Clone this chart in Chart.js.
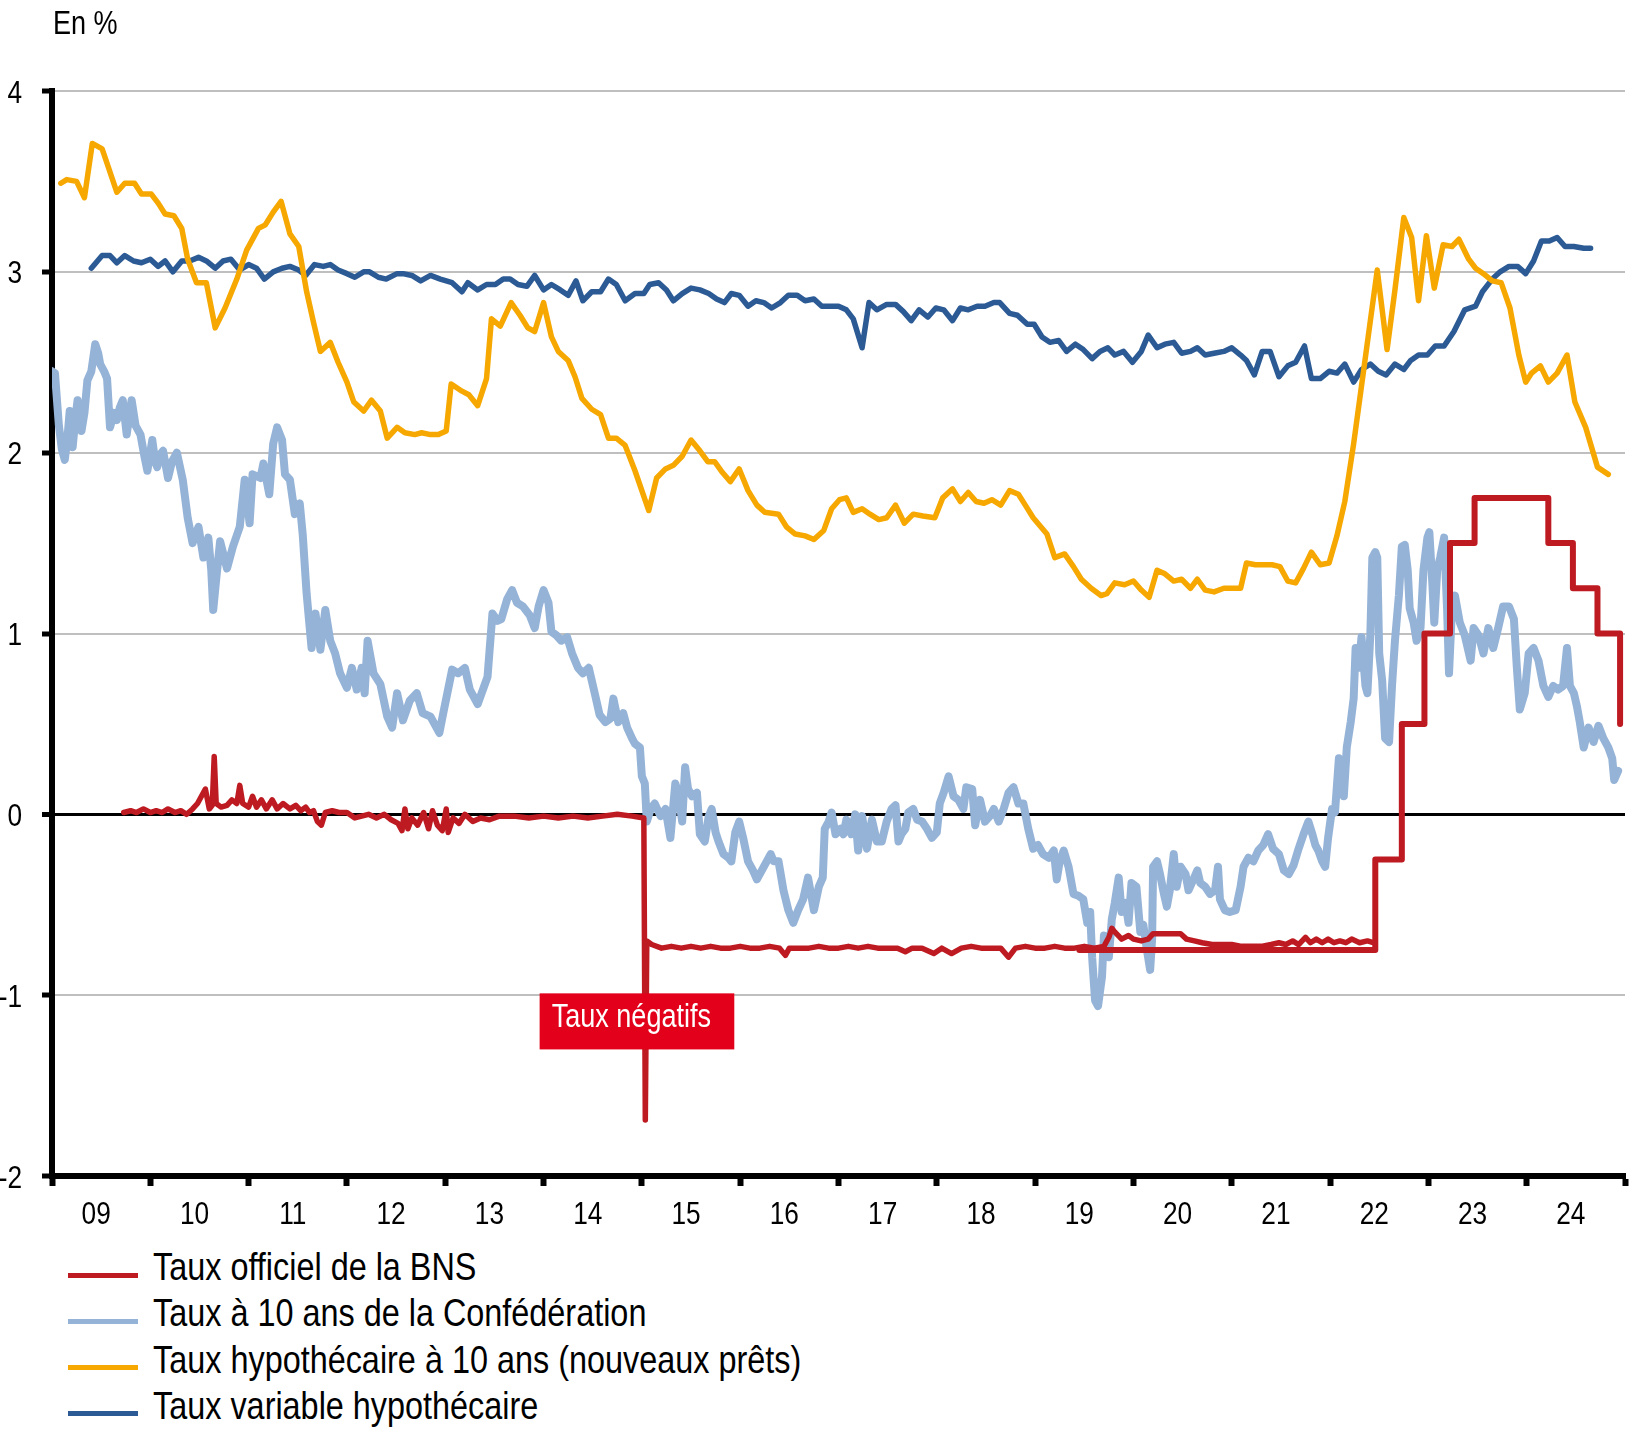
<!DOCTYPE html>
<html lang="fr">
<head>
<meta charset="utf-8">
<title>Taux d'intérêt en Suisse</title>
<script src="https://cdn.jsdelivr.net/npm/chart.js@4.4.1/dist/chart.umd.min.js"></script>
<style>
  html, body { margin: 0; padding: 0; background: #fff; }
  #wrap { position: relative; width: 1651px; height: 1438px; overflow: hidden;
          font-family: "Liberation Sans", Arial, sans-serif; color: #000; }
  #chart { position: absolute; left: 0; top: 0; }
  /* Arial Narrow look: Liberation Sans squeezed horizontally */
  .narrow { transform: scaleX(0.82); transform-origin: 0 0; white-space: nowrap; }
  #unit { position: absolute; left: 53px; top: 6px; font-size: 33px; line-height: 33px; }
  .lg-line { position: absolute; left: 68px; width: 70px; height: 5px; }
  .lg-text { position: absolute; left: 153px; font-size: 39.5px; line-height: 39px; }
</style>
</head>
<body>
<div id="wrap">
  <canvas id="chart" width="1651" height="1240"></canvas>
  <div id="unit" class="narrow">En %</div>
  <div id="legend"></div>
</div>
<script>
const FONT = '"Liberation Sans", Arial, sans-serif';
const SQUEEZE = 0.82;

const seriesNames = [
    "Taux officiel de la BNS",
    "Taux à 10 ans de la Confédération",
    "Taux hypothécaire à 10 ans (nouveaux prêts)",
    "Taux variable hypothécaire"
];
const yearLabels = ["09","10","11","12","13","14","15","16","17","18","19","20","21","22","23","24"];

// BNS / SARON (daily, thinned)
const bnsYears = [2009.73,2009.80,2009.86,2009.93,2010.00,2010.06,2010.12,2010.18,2010.25,2010.31,2010.37,2010.43,2010.48,2010.52,2010.56,2010.60,2010.63,2010.65,2010.67,2010.72,2010.78,2010.83,2010.88,2010.91,2010.94,2011.00,2011.04,2011.08,2011.13,2011.18,2011.24,2011.29,2011.35,2011.42,2011.48,2011.53,2011.58,2011.62,2011.66,2011.70,2011.74,2011.78,2011.85,2011.92,2012.00,2012.08,2012.15,2012.22,2012.30,2012.38,2012.45,2012.52,2012.56,2012.59,2012.62,2012.66,2012.72,2012.78,2012.83,2012.87,2012.92,2012.97,2013.01,2013.03,2013.08,2013.14,2013.20,2013.28,2013.36,2013.45,2013.55,2013.70,2013.85,2014.00,2014.15,2014.30,2014.45,2014.60,2014.75,2014.90,2015.02,2015.035,2015.05,2015.10,2015.20,2015.30,2015.40,2015.50,2015.60,2015.70,2015.80,2015.90,2016.00,2016.10,2016.20,2016.30,2016.40,2016.46,2016.50,2016.60,2016.70,2016.80,2016.90,2017.00,2017.10,2017.20,2017.30,2017.40,2017.50,2017.60,2017.68,2017.75,2017.85,2017.97,2018.05,2018.15,2018.25,2018.35,2018.45,2018.55,2018.65,2018.73,2018.80,2018.90,2019.00,2019.10,2019.20,2019.30,2019.40,2019.50,2019.60,2019.70,2019.75,2019.78,2019.81,2019.88,2019.95,2020.00,2020.08,2020.15,2020.20,2020.30,2020.40,2020.48,2020.54,2020.62,2020.70,2020.80,2020.90,2021.00,2021.10,2021.20,2021.30,2021.40,2021.48,2021.55,2021.62,2021.68,2021.75,2021.80,2021.86,2021.92,2021.98,2022.04,2022.10,2022.16,2022.22,2022.30,2022.38,2022.44];
const bnsRates = [0.01,0.02,0.01,0.03,0.01,0.02,0.01,0.03,0.01,0.02,0.00,0.03,0.06,0.10,0.14,0.03,0.05,0.32,0.06,0.04,0.05,0.08,0.06,0.16,0.06,0.04,0.10,0.04,0.08,0.03,0.08,0.03,0.06,0.03,0.05,0.02,0.04,0.01,0.02,-0.04,-0.06,0.01,0.02,0.01,0.01,-0.02,-0.01,0.00,-0.02,0.00,-0.03,-0.05,-0.09,0.03,-0.08,-0.02,-0.06,0.01,-0.08,0.02,-0.06,-0.09,0.03,-0.10,-0.02,-0.05,0.00,-0.04,-0.02,-0.03,-0.01,-0.01,-0.02,-0.01,-0.02,-0.01,-0.02,-0.01,0.00,-0.01,-0.02,-1.69,-0.70,-0.72,-0.74,-0.73,-0.74,-0.73,-0.74,-0.73,-0.74,-0.74,-0.73,-0.74,-0.74,-0.73,-0.74,-0.78,-0.74,-0.74,-0.74,-0.73,-0.74,-0.74,-0.73,-0.74,-0.73,-0.74,-0.74,-0.74,-0.76,-0.74,-0.74,-0.77,-0.74,-0.77,-0.74,-0.73,-0.74,-0.74,-0.74,-0.79,-0.74,-0.73,-0.74,-0.74,-0.73,-0.74,-0.74,-0.73,-0.74,-0.73,-0.68,-0.63,-0.65,-0.69,-0.67,-0.69,-0.70,-0.69,-0.66,-0.66,-0.66,-0.66,-0.69,-0.70,-0.71,-0.72,-0.72,-0.72,-0.73,-0.73,-0.73,-0.72,-0.71,-0.72,-0.70,-0.72,-0.68,-0.71,-0.69,-0.71,-0.69,-0.71,-0.70,-0.71,-0.69,-0.71,-0.70,-0.71];

// BNS policy rate (steps, value valid from the date)
const policyYears = [2019.45,2022.46,2022.73,2022.96,2023.22,2023.47,2024.22,2024.47,2024.72,2024.95];
const policyRates = [-0.75,-0.25,0.50,1.00,1.50,1.75,1.50,1.25,1.00,0.50];

// 10-year Confederation bond yield
const confYears = [2009.00,2009.03,2009.07,2009.10,2009.13,2009.16,2009.18,2009.21,2009.24,2009.26,2009.30,2009.33,2009.36,2009.40,2009.44,2009.47,2009.49,2009.53,2009.56,2009.59,2009.63,2009.66,2009.69,2009.72,2009.76,2009.79,2009.81,2009.85,2009.90,2009.94,2009.97,2010.02,2010.05,2010.07,2010.10,2010.13,2010.18,2010.22,2010.27,2010.33,2010.38,2010.43,2010.49,2010.54,2010.59,2010.62,2010.64,2010.67,2010.71,2010.78,2010.84,2010.91,2010.96,2011.01,2011.04,2011.12,2011.15,2011.21,2011.25,2011.29,2011.34,2011.37,2011.42,2011.47,2011.52,2011.55,2011.59,2011.64,2011.68,2011.73,2011.78,2011.83,2011.88,2011.93,2012.00,2012.05,2012.10,2012.15,2012.18,2012.21,2012.27,2012.34,2012.41,2012.46,2012.51,2012.57,2012.64,2012.71,2012.77,2012.85,2012.94,2012.98,2013.07,2013.13,2013.20,2013.25,2013.33,2013.43,2013.48,2013.53,2013.57,2013.63,2013.68,2013.73,2013.79,2013.86,2013.91,2013.95,2014.00,2014.05,2014.08,2014.13,2014.18,2014.24,2014.29,2014.35,2014.40,2014.46,2014.52,2014.57,2014.63,2014.68,2014.71,2014.76,2014.81,2014.85,2014.90,2014.93,2014.98,2015.00,2015.03,2015.05,2015.09,2015.13,2015.19,2015.24,2015.29,2015.31,2015.34,2015.37,2015.41,2015.44,2015.47,2015.51,2015.56,2015.59,2015.64,2015.68,2015.71,2015.75,2015.78,2015.83,2015.88,2015.91,2015.95,2015.99,2016.03,2016.08,2016.13,2016.17,2016.22,2016.27,2016.31,2016.34,2016.39,2016.44,2016.49,2016.54,2016.59,2016.64,2016.69,2016.75,2016.80,2016.84,2016.86,2016.90,2016.93,2016.97,2017.02,2017.05,2017.08,2017.13,2017.17,2017.20,2017.24,2017.29,2017.34,2017.39,2017.44,2017.49,2017.54,2017.58,2017.61,2017.64,2017.68,2017.71,2017.76,2017.80,2017.85,2017.90,2017.95,2018.00,2018.03,2018.07,2018.12,2018.17,2018.22,2018.27,2018.30,2018.36,2018.39,2018.44,2018.49,2018.54,2018.58,2018.63,2018.68,2018.73,2018.78,2018.83,2018.88,2018.93,2018.98,2019.03,2019.08,2019.14,2019.19,2019.22,2019.25,2019.29,2019.34,2019.39,2019.44,2019.49,2019.53,2019.56,2019.58,2019.61,2019.64,2019.68,2019.70,2019.73,2019.75,2019.78,2019.81,2019.85,2019.88,2019.92,2019.95,2019.98,2020.03,2020.07,2020.10,2020.14,2020.17,2020.19,2020.20,2020.24,2020.27,2020.31,2020.34,2020.37,2020.41,2020.44,2020.48,2020.53,2020.56,2020.61,2020.65,2020.68,2020.73,2020.78,2020.83,2020.86,2020.88,2020.93,2020.98,2021.04,2021.09,2021.12,2021.17,2021.22,2021.27,2021.32,2021.37,2021.42,2021.48,2021.53,2021.58,2021.63,2021.68,2021.73,2021.78,2021.82,2021.85,2021.88,2021.92,2021.95,2021.98,2022.02,2022.05,2022.09,2022.11,2022.14,2022.17,2022.21,2022.24,2022.26,2022.29,2022.32,2022.36,2022.38,2022.41,2022.43,2022.46,2022.48,2022.50,2022.53,2022.56,2022.60,2022.63,2022.66,2022.70,2022.73,2022.76,2022.79,2022.81,2022.85,2022.88,2022.92,2022.95,2022.99,2023.01,2023.04,2023.06,2023.09,2023.12,2023.16,2023.19,2023.21,2023.24,2023.27,2023.32,2023.37,2023.43,2023.46,2023.51,2023.56,2023.61,2023.66,2023.71,2023.76,2023.82,2023.87,2023.90,2023.93,2023.98,2024.02,2024.07,2024.12,2024.17,2024.22,2024.27,2024.32,2024.37,2024.41,2024.44,2024.48,2024.51,2024.54,2024.58,2024.63,2024.68,2024.73,2024.78,2024.83,2024.87,2024.89,2024.93];
const confRates = [2.45,2.44,2.15,2.02,1.96,2.10,2.23,2.03,2.20,2.29,2.12,2.22,2.40,2.45,2.60,2.55,2.49,2.45,2.41,2.14,2.22,2.18,2.25,2.29,2.10,2.22,2.29,2.15,2.10,1.98,1.90,2.07,1.95,1.92,1.99,2.01,1.86,1.95,2.00,1.85,1.64,1.50,1.59,1.42,1.53,1.35,1.13,1.30,1.51,1.36,1.48,1.59,1.85,1.61,1.88,1.86,1.94,1.77,2.05,2.14,2.07,1.88,1.85,1.66,1.72,1.55,1.22,0.92,1.11,0.91,1.13,0.96,0.89,0.78,0.70,0.81,0.69,0.81,0.67,0.96,0.78,0.72,0.54,0.48,0.67,0.52,0.63,0.67,0.56,0.54,0.45,0.56,0.80,0.78,0.81,0.69,0.61,0.76,1.11,1.07,1.08,1.19,1.24,1.17,1.15,1.10,1.03,1.15,1.24,1.17,1.01,0.99,0.96,0.98,0.89,0.81,0.78,0.81,0.67,0.55,0.51,0.53,0.64,0.51,0.56,0.48,0.42,0.39,0.37,0.21,0.17,-0.04,0.03,0.06,-0.01,0.03,-0.13,-0.01,0.17,0.12,-0.04,0.26,0.14,0.10,0.12,-0.11,-0.15,-0.01,0.03,-0.10,-0.15,-0.22,-0.24,-0.26,-0.10,-0.04,-0.13,-0.26,-0.31,-0.36,-0.31,-0.26,-0.22,-0.26,-0.26,-0.42,-0.53,-0.60,-0.53,-0.47,-0.35,-0.53,-0.40,-0.35,-0.08,-0.04,0.01,-0.11,-0.08,-0.11,-0.03,-0.11,0.00,-0.20,-0.01,-0.19,-0.03,-0.15,-0.15,-0.04,0.03,0.05,-0.15,-0.11,-0.08,0.01,0.03,-0.03,-0.04,-0.08,-0.13,-0.10,0.06,0.12,0.21,0.10,0.08,0.03,0.15,0.14,-0.06,0.08,-0.04,-0.01,0.03,-0.04,0.03,0.12,0.15,0.06,0.06,-0.08,-0.19,-0.17,-0.22,-0.24,-0.20,-0.36,-0.26,-0.20,-0.29,-0.44,-0.45,-0.47,-0.60,-0.54,-0.79,-1.03,-1.06,-0.90,-0.67,-0.72,-0.79,-0.58,-0.49,-0.35,-0.54,-0.49,-0.60,-0.38,-0.40,-0.65,-0.61,-0.76,-0.86,-0.69,-0.29,-0.26,-0.33,-0.44,-0.51,-0.42,-0.22,-0.40,-0.29,-0.33,-0.42,-0.36,-0.31,-0.38,-0.40,-0.44,-0.42,-0.29,-0.47,-0.53,-0.54,-0.53,-0.40,-0.29,-0.24,-0.26,-0.20,-0.17,-0.11,-0.19,-0.22,-0.31,-0.33,-0.28,-0.19,-0.11,-0.04,-0.11,-0.17,-0.20,-0.26,-0.29,-0.13,0.03,0.01,0.31,0.24,0.10,0.37,0.51,0.64,0.92,0.81,0.98,0.71,0.67,1.00,1.42,1.45,1.42,0.89,0.74,0.42,0.40,0.71,0.96,1.21,1.48,1.49,1.35,1.14,1.06,0.96,1.03,1.35,1.53,1.56,1.28,1.06,1.35,1.42,1.53,1.14,0.78,1.14,1.21,1.06,0.99,0.85,1.03,0.99,0.89,1.03,0.92,1.03,1.15,1.15,1.08,0.81,0.58,0.67,0.89,0.92,0.85,0.71,0.65,0.71,0.69,0.71,0.92,0.71,0.67,0.60,0.51,0.37,0.48,0.40,0.49,0.42,0.37,0.31,0.19,0.24];

// 10-year fixed mortgage rate (new loans)
const mortYears = [2009.09,2009.15,2009.25,2009.33,2009.41,2009.51,2009.66,2009.74,2009.84,2009.91,2010.01,2010.08,2010.15,2010.24,2010.32,2010.38,2010.47,2010.57,2010.66,2010.76,2010.88,2010.98,2011.10,2011.17,2011.25,2011.33,2011.42,2011.51,2011.59,2011.66,2011.73,2011.83,2011.91,2012.00,2012.07,2012.17,2012.25,2012.34,2012.41,2012.51,2012.59,2012.69,2012.76,2012.85,2012.93,2013.01,2013.06,2013.17,2013.24,2013.33,2013.42,2013.47,2013.56,2013.67,2013.76,2013.84,2013.91,2014.00,2014.08,2014.15,2014.25,2014.32,2014.39,2014.49,2014.58,2014.66,2014.74,2014.83,2014.93,2015.07,2015.15,2015.24,2015.32,2015.41,2015.50,2015.59,2015.67,2015.74,2015.82,2015.90,2015.99,2016.08,2016.17,2016.25,2016.39,2016.47,2016.56,2016.66,2016.75,2016.85,2016.93,2017.01,2017.08,2017.15,2017.24,2017.32,2017.41,2017.49,2017.58,2017.67,2017.76,2017.86,2017.98,2018.06,2018.16,2018.24,2018.32,2018.40,2018.48,2018.56,2018.65,2018.74,2018.83,2018.90,2018.98,2019.12,2019.20,2019.30,2019.39,2019.47,2019.57,2019.67,2019.73,2019.81,2019.91,2020.00,2020.08,2020.16,2020.24,2020.32,2020.41,2020.49,2020.58,2020.65,2020.73,2020.82,2020.92,2021.09,2021.15,2021.24,2021.41,2021.49,2021.57,2021.65,2021.73,2021.81,2021.90,2021.99,2022.07,2022.15,2022.24,2022.32,2022.41,2022.48,2022.58,2022.66,2022.75,2022.83,2022.90,2022.98,2023.06,2023.15,2023.24,2023.31,2023.41,2023.48,2023.56,2023.65,2023.74,2023.83,2023.92,2023.99,2024.05,2024.14,2024.22,2024.31,2024.41,2024.49,2024.60,2024.72,2024.83];
const mortRates = [3.49,3.51,3.50,3.41,3.71,3.68,3.44,3.49,3.49,3.43,3.43,3.38,3.32,3.31,3.24,3.07,2.94,2.94,2.69,2.80,2.96,3.12,3.24,3.26,3.33,3.39,3.21,3.14,2.89,2.72,2.56,2.61,2.50,2.39,2.28,2.23,2.29,2.23,2.08,2.14,2.11,2.10,2.11,2.10,2.10,2.12,2.38,2.34,2.32,2.26,2.41,2.74,2.70,2.83,2.76,2.69,2.67,2.83,2.64,2.56,2.51,2.42,2.30,2.24,2.21,2.08,2.08,2.04,1.90,1.68,1.86,1.91,1.93,1.98,2.07,2.01,1.95,1.95,1.89,1.84,1.91,1.79,1.71,1.67,1.66,1.59,1.55,1.54,1.52,1.57,1.69,1.74,1.75,1.67,1.69,1.66,1.63,1.64,1.71,1.61,1.66,1.65,1.64,1.75,1.80,1.73,1.78,1.73,1.72,1.74,1.71,1.79,1.77,1.71,1.64,1.55,1.42,1.44,1.37,1.30,1.25,1.21,1.22,1.28,1.27,1.29,1.24,1.20,1.35,1.33,1.29,1.30,1.25,1.30,1.24,1.23,1.25,1.25,1.39,1.38,1.38,1.37,1.29,1.28,1.36,1.45,1.38,1.39,1.54,1.73,2.05,2.37,2.73,3.01,2.57,2.90,3.30,3.19,2.84,3.20,2.91,3.15,3.14,3.18,3.07,3.02,2.99,2.95,2.94,2.80,2.54,2.39,2.44,2.48,2.39,2.44,2.54,2.28,2.14,1.92,1.88];

// Variable mortgage rate
const varYears = [2009.40,2009.51,2009.59,2009.66,2009.74,2009.83,2009.91,2010.00,2010.08,2010.15,2010.23,2010.32,2010.40,2010.49,2010.57,2010.66,2010.74,2010.82,2010.91,2011.00,2011.08,2011.16,2011.25,2011.34,2011.42,2011.51,2011.58,2011.67,2011.76,2011.83,2011.91,2012.00,2012.08,2012.17,2012.23,2012.32,2012.40,2012.51,2012.57,2012.66,2012.75,2012.85,2012.95,2013.07,2013.17,2013.23,2013.33,2013.42,2013.51,2013.59,2013.66,2013.74,2013.83,2013.91,2014.00,2014.08,2014.17,2014.25,2014.33,2014.40,2014.49,2014.58,2014.66,2014.74,2014.83,2014.93,2015.02,2015.08,2015.17,2015.25,2015.32,2015.41,2015.50,2015.59,2015.68,2015.76,2015.84,2015.91,2015.99,2016.08,2016.16,2016.24,2016.32,2016.41,2016.49,2016.58,2016.66,2016.75,2016.83,2016.91,2017.00,2017.08,2017.15,2017.24,2017.31,2017.39,2017.49,2017.58,2017.66,2017.74,2017.82,2017.91,2017.99,2018.07,2018.16,2018.24,2018.32,2018.41,2018.49,2018.58,2018.64,2018.74,2018.82,2018.92,2018.99,2019.07,2019.15,2019.24,2019.32,2019.41,2019.49,2019.58,2019.66,2019.74,2019.81,2019.90,2019.99,2020.08,2020.15,2020.24,2020.32,2020.41,2020.49,2020.58,2020.65,2020.73,2020.82,2020.92,2021.00,2021.09,2021.15,2021.23,2021.31,2021.39,2021.48,2021.57,2021.65,2021.74,2021.81,2021.90,2021.99,2022.07,2022.15,2022.24,2022.32,2022.41,2022.49,2022.57,2022.66,2022.75,2022.82,2022.90,2022.99,2023.07,2023.16,2023.26,2023.37,2023.48,2023.55,2023.65,2023.73,2023.82,2023.91,2023.99,2024.07,2024.15,2024.23,2024.31,2024.39,2024.48,2024.58,2024.65];
const varRates = [3.02,3.09,3.09,3.05,3.09,3.06,3.05,3.07,3.03,3.06,3.00,3.06,3.06,3.08,3.06,3.02,3.06,3.07,3.01,3.04,3.02,2.96,3.00,3.02,3.03,3.01,2.98,3.04,3.03,3.04,3.01,2.99,2.97,3.00,3.00,2.97,2.96,2.99,2.99,2.98,2.95,2.98,2.96,2.94,2.89,2.94,2.90,2.93,2.93,2.96,2.96,2.93,2.92,2.98,2.90,2.93,2.90,2.87,2.95,2.84,2.89,2.89,2.96,2.93,2.84,2.88,2.88,2.93,2.94,2.90,2.84,2.88,2.91,2.90,2.88,2.85,2.83,2.88,2.87,2.81,2.84,2.83,2.80,2.83,2.87,2.87,2.84,2.85,2.81,2.81,2.81,2.79,2.74,2.58,2.83,2.79,2.82,2.82,2.78,2.73,2.79,2.75,2.80,2.79,2.73,2.80,2.79,2.81,2.81,2.83,2.83,2.77,2.76,2.71,2.71,2.64,2.61,2.62,2.56,2.60,2.57,2.52,2.56,2.58,2.54,2.56,2.50,2.56,2.65,2.58,2.60,2.61,2.55,2.56,2.58,2.54,2.55,2.56,2.58,2.54,2.51,2.43,2.56,2.56,2.42,2.48,2.50,2.59,2.41,2.41,2.45,2.44,2.49,2.39,2.46,2.49,2.45,2.43,2.49,2.46,2.51,2.54,2.54,2.59,2.59,2.67,2.79,2.81,2.89,2.96,3.00,3.03,3.03,2.99,3.06,3.17,3.17,3.19,3.14,3.14,3.13,3.13];

// annotation: x from/to (years), y from/to (%)
const noteText = "Taux négatifs";
const noteBox = [2013.96, 2015.94, -0.99, -1.30];

const pts = (xs, ys) => xs.map((x, i) => ({ x: x, y: ys[i] }));

const RED = '#BE1A21', LIGHT = '#95B3D7', ORANGE = '#F6A800', DARK = '#2B5A95';

function lineSet(label, data, color, width, extra) {
    return Object.assign({
        label: label,
        data: data,
        borderColor: color,
        backgroundColor: color,
        borderWidth: width,
        pointRadius: 0,
        tension: 0,
        borderJoinStyle: 'round',
        borderCapStyle: 'round',
        fill: false
    }, extra || {});
}

// text squeezed like Arial Narrow
function narrowText(ctx, text, x, y, align) {
    const w = ctx.measureText(text).width * SQUEEZE;
    const x0 = align === 'center' ? x - w / 2 : (align === 'right' ? x - w : x);
    ctx.save();
    ctx.translate(x0, y);
    ctx.scale(SQUEEZE, 1);
    ctx.textAlign = 'left';
    ctx.fillText(text, 0, 0);
    ctx.restore();
}

const negBoxPlugin = {
    id: 'negBox',
    afterDatasetsDraw(chart) {
        const { ctx, scales: { x, y } } = chart;
        const l = x.getPixelForValue(noteBox[0]);
        const r = x.getPixelForValue(noteBox[1]);
        const t = y.getPixelForValue(noteBox[2]);
        const b = y.getPixelForValue(noteBox[3]);
        ctx.save();
        ctx.fillStyle = '#E2001A';
        ctx.fillRect(l, t, r - l, b - t);
        ctx.fillStyle = '#fff';
        ctx.font = '33px ' + FONT;
        ctx.textBaseline = 'alphabetic';
        narrowText(ctx, noteText, l + 12, t + 34, 'left');
        ctx.restore();
    }
};

// tick labels drawn from the scales' own ticks, in the narrow face
const tickLabelPlugin = {
    id: 'tickLabels',
    afterDraw(chart) {
        const { ctx, scales: { x, y } } = chart;
        ctx.save();
        ctx.fillStyle = '#000';
        ctx.font = '32px ' + FONT;
        ctx.textBaseline = 'alphabetic';
        x.ticks.forEach(t => {
            if (t.value % 1 === 0) return;
            const lab = yearLabels[Math.floor(t.value) - 2009];
            narrowText(ctx, lab, x.getPixelForValue(t.value) - 5, x.bottom - 12, 'center');
        });
        y.ticks.forEach(t => {
            narrowText(ctx, String(t.value), y.right - 30, y.getPixelForValue(t.value) + 11.5, 'right');
        });
        ctx.restore();
    }
};

new Chart(document.getElementById('chart'), {
    type: 'line',
    data: {
        datasets: [
            lineSet(seriesNames[0], pts(bnsYears, bnsRates), RED, 5.5),
            lineSet(seriesNames[0], pts(policyYears, policyRates), RED, 6, { stepped: true }),
            lineSet(seriesNames[1], pts(confYears, confRates), LIGHT, 8),
            lineSet(seriesNames[2], pts(mortYears, mortRates), ORANGE, 5.5),
            lineSet(seriesNames[3], pts(varYears, varRates), DARK, 5.5)
        ]
    },
    options: {
        responsive: false,
        animation: false,
        devicePixelRatio: 1,
        layout: { padding: { top: 91, right: 26, bottom: 4, left: 0 } },
        plugins: { legend: { display: false }, tooltip: { enabled: false } },
        scales: {
            x: {
                type: 'linear',
                min: 2009,
                max: 2025,
                ticks: { stepSize: 0.5, autoSkip: false, maxRotation: 0, display: false },
                grid: {
                    drawOnChartArea: false,
                    tickLength: 10,
                    tickWidth: 6,
                    tickColor: c => (Number.isInteger(c.tick.value) ? '#000' : 'rgba(0,0,0,0)')
                },
                border: { color: '#000', width: 6 },
                afterFit: s => { s.height = 60; }
            },
            y: {
                min: -2,
                max: 4,
                ticks: { stepSize: 1, display: false },
                grid: {
                    color: c => (c.tick.value === 0 ? '#000' : '#BFBFBF'),
                    lineWidth: c => (c.tick.value === 0 ? 3 : 2),
                    tickColor: '#000',
                    tickWidth: 5,
                    tickLength: 10
                },
                border: { color: '#000', width: 6 },
                afterFit: s => { s.width = 52; }
            }
        }
    },
    plugins: [negBoxPlugin, tickLabelPlugin]
});

// legend, one row per series
const legendColors = [RED, LIGHT, ORANGE, DARK];
const legend = document.getElementById('legend');
seriesNames.forEach((name, i) => {
    const lineY = 1275 + i * 46.3;
    const sw = document.createElement('div');
    sw.className = 'lg-line';
    sw.style.top = (lineY - 2.5) + 'px';
    sw.style.background = legendColors[i];
    legend.appendChild(sw);
    const tx = document.createElement('div');
    tx.className = 'lg-text narrow';
    tx.style.top = (lineY + 5 - 33) + 'px';
    tx.textContent = name;
    legend.appendChild(tx);
});
</script>
</body>
</html>
